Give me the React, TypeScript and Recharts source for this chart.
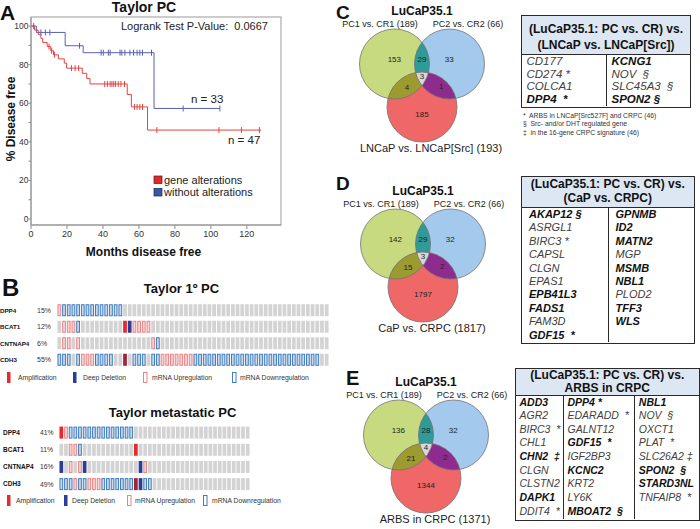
import React from 'react';
import { LineChart, Line, XAxis, YAxis, ScatterChart, Scatter } from 'recharts';

const FONT = '"Liberation Sans", Arial, Helvetica, sans-serif';

// ---------------- Panel A: Kaplan-Meier (Taylor PC) ----------------
const kmXTicks = [0, 20, 40, 60, 80, 100, 120];
const kmYTicks = [0, 10, 20, 30, 40, 50, 60, 70, 80, 90, 100];

const altMonths = [0, 2, 4, 5.5, 6.5, 9, 10, 11, 11.5, 12.5, 13, 15.2, 18.5, 19.8, 22.5, 24.5, 26.5, 28.5, 31, 32.8, 41, 42.5, 44, 45, 46, 47, 48.5, 50, 52, 53.5, 55.8, 57.5, 59, 60.5, 62, 64.8, 70, 104.5, 117, 127, 128];
const altSurvival = [100, 97.9, 95.7, 93.6, 91.5, 89.4, 89.4, 87.2, 87.2, 85.1, 85.1, 83, 80.8, 78.2, 78.2, 78.2, 78.2, 75.5, 72.8, 70, 70, 70, 70, 70, 70, 70, 70, 70, 70, 64.5, 58.1, 58.1, 58.1, 58.1, 58.1, 46.1, 46.1, 46.1, 46.1, 46.1, 46.1];
const altCensored = [0, 0, 0, 0, 0, 0, 1, 0, 1, 0, 1, 0, 0, 0, 1, 1, 1, 0, 0, 0, 1, 1, 1, 1, 1, 1, 1, 1, 1, 0, 0, 1, 1, 1, 1, 0, 1, 1, 1, 1, 0];

const noAltMonths = [0, 1.5, 3, 5.5, 8, 10.5, 19, 27, 29, 39, 40.2, 43, 44, 49.5, 50.5, 52.2, 55, 57, 59, 60.5, 62, 67, 68.4, 84.6, 105];
const noAltSurvival = [100, 100, 96.7, 96.7, 96.7, 96.7, 89.8, 89.8, 86.2, 86.2, 86.2, 86.2, 86.2, 86.2, 86.2, 86.2, 86.2, 86.2, 86.2, 86.2, 86.2, 86.2, 57.3, 57.3, 57.3];
const noAltCensored = [0, 1, 0, 1, 1, 1, 0, 1, 0, 1, 1, 1, 1, 1, 1, 1, 1, 1, 1, 1, 1, 1, 0, 1, 1];

// ---------------- Panel B: oncoprints ----------------
// U = mRNA up, D = mRNA down, A = amplification, L = deep deletion, a = amplification (dark), . = none
const oncoGenes = ['DPP4', 'BCAT1', 'CNTNAP4', 'CDH3'];
const primaryPct = ['15%', '12%', '6%', '55%'];
const primaryRows = [
  'UDDDDDDDDDDDDD',
  '.UUUD.........ALUUUU',
  '.UU.U...............UD',
  'DDD.DUUUDDDD..a.DDD.DDUUUUUUU' + 'DDDDDDDDD' + 'DDDDDDDDD' + 'DDDDDDDDD' + '..',
];
const primaryCols = 58;
const metaPct = ['41%', '11%', '16%', '49%'];
const metaRows = [
  'AUDDDDDDDDDDDDDD',
  '..UUD...........A',
  'L.U.UL...........LU',
  'DDDUDDUUUDDDDDDDaLDD',
];
const metaCols = 41;

// ---------------- Venn diagrams (C, D, E) ----------------
// region order: A only, A∩B, B only, A∩B∩C, A∩C, B∩C, C only
const vennCCounts = [153, 29, 33, 3, 4, 1, 185];
const vennDCounts = [142, 29, 32, 3, 15, 2, 1797];
const vennECounts = [136, 28, 32, 4, 21, 2, 1344];
const vennTitle = 'LuCaP35.1';
const vennSetA = 'PC1 vs. CR1 (189)';
const vennSetB = 'PC2 vs. CR2 (66)';
const vennCSetC = 'LNCaP vs. LNCaP[Src] (193)';
const vennDSetC = 'CaP vs. CRPC (1817)';
const vennESetC = 'ARBS in CRPC (1371)';

// ---------------- Gene tables ----------------
const tableCHeader = ['(LuCaP35.1: PC vs. CR) vs.', '(LNCaP vs. LNCaP[Src])'];
const tableCCol1 = [{ g: 'CD177' }, { g: 'CD274 *' }, { g: 'COLCA1' }, { g: 'DPP4  *', hi: 1 }];
const tableCCol2 = [{ g: 'KCNG1', hi: 1 }, { g: 'NOV  §' }, { g: 'SLC45A3  §' }, { g: 'SPON2 §', hi: 1 }];
const tableCNotes = ['*  ARBS in LNCaP[Src527F] and CRPC (46)', '§  Src- and/or DHT regulated gene', '‡  in the 16-gene CRPC signature (46)'];

const tableDHeader = ['(LuCaP35.1: PC vs. CR) vs.', '(CaP vs. CRPC)'];
const tableDCol1 = [{ g: 'AKAP12 §', hi: 1 }, { g: 'ASRGL1' }, { g: 'BIRC3 *' }, { g: 'CAPSL' }, { g: 'CLGN' }, { g: 'EPAS1' }, { g: 'EPB41L3', hi: 1 }, { g: 'FADS1', hi: 1 }, { g: 'FAM3D' }, { g: 'GDF15  *', hi: 1 }];
const tableDCol2 = [{ g: 'GPNMB', hi: 1 }, { g: 'ID2', hi: 1 }, { g: 'MATN2', hi: 1 }, { g: 'MGP' }, { g: 'MSMB', hi: 1 }, { g: 'NBL1', hi: 1 }, { g: 'PLOD2' }, { g: 'TFF3', hi: 1 }, { g: 'WLS', hi: 1 }];

const tableEHeader = ['(LuCaP35.1: PC vs. CR) vs.', 'ARBS in CRPC'];
const tableECol1 = [{ g: 'ADD3', hi: 1 }, { g: 'AGR2' }, { g: 'BIRC3  *' }, { g: 'CHL1' }, { g: 'CHN2  ‡', hi: 1 }, { g: 'CLGN' }, { g: 'CLSTN2' }, { g: 'DAPK1', hi: 1 }, { g: 'DDIT4  *' }];
const tableECol2 = [{ g: 'DPP4 *', hi: 1 }, { g: 'EDARADD  *' }, { g: 'GALNT12' }, { g: 'GDF15  *', hi: 1 }, { g: 'IGF2BP3' }, { g: 'KCNC2', hi: 1 }, { g: 'KRT2' }, { g: 'LY6K' }, { g: 'MBOAT2  §', hi: 1 }];
const tableECol3 = [{ g: 'NBL1', hi: 1 }, { g: 'NOV  §' }, { g: 'OXCT1' }, { g: 'PLAT  *' }, { g: 'SLC26A2 ‡' }, { g: 'SPON2  §', hi: 1 }, { g: 'STARD3NL', hi: 1 }, { g: 'TNFAIP8  *' }];

// ================= components =================
const RED = '#E5423F';
const BLUE = '#5860B3';

function kmSeries(m: number[], v: number[], c: number[]) {
  return m.map((mm, i) => ({ m: mm, v: v[i], c: c[i] }));
}

function KMPanel() {
  const alt = kmSeries(altMonths, altSurvival, altCensored);
  const noAlt = kmSeries(noAltMonths, noAltSurvival, noAltCensored);
  const dot = (color: string) => (p: any) => {
    if (!p.payload || !p.payload.c) return <g key={`n${p.index}`} />;
    return <line key={`c${p.index}`} x1={p.cx} x2={p.cx} y1={p.cy - 3} y2={p.cy + 3} stroke={color} strokeWidth={1} />;
  };
  return (
    <div style={{ position: 'absolute', left: 0, top: 0 }}>
      <LineChart width={290} height={262} margin={{ top: 17, right: 9, bottom: 2, left: 0 }}>
        <XAxis type="number" dataKey="m" domain={[0, 139]} allowDataOverflow ticks={kmXTicks} height={35}
          tickSize={4} tickMargin={2} stroke="#8a8a8a" tick={{ fontSize: 9, fill: '#333' }} />
        <YAxis type="number" dataKey="v" domain={[-3.1, 104.7]} allowDataOverflow ticks={kmYTicks} width={31}
          tickSize={2.5} tickMargin={0} stroke="#8a8a8a" interval={0}
          tick={(p: any) => p.payload.value % 20 === 0
            ? <text key={`t${p.payload.value}`} x={p.x} y={p.y} dy={3} textAnchor="end" fontSize={8.5} fill="#333">{p.payload.value}</text>
            : <g key={`t${p.payload.value}`} />} />
        <Line data={noAlt} dataKey="v" type="stepAfter" stroke={BLUE} strokeWidth={1} dot={dot(BLUE)} activeDot={false} isAnimationActive={false} />
        <Line data={alt} dataKey="v" type="stepAfter" stroke={RED} strokeWidth={1} dot={dot(RED)} activeDot={false} isAnimationActive={false} />
      </LineChart>
    </div>
  );
}

const ONCO = {
  grey: '#D3D3D3', upFill: '#EDD9D9', upStroke: '#EE8383', downFill: '#CCD9E8', downStroke: '#3F7DC0',
  amp: '#E42A2E', del: '#2B3D97', ampDark: '#A3243A',
};

function Oncoprint({ rows, pcts, nCols, left, top, width, height, axisW, margin, cellH, geneX, pctX, geneFs, pctFs }: any) {
  const data: any[] = [];
  rows.forEach((r: string, ri: number) => {
    for (let c = 0; c < nCols; c++) data.push({ col: c + 0.5, row: ri, t: r[c] || '.' });
  });
  const plotW = width - axisW - margin.left - margin.right;
  const cellW = (plotW / nCols) * 0.8;
  const shape = (p: any) => {
    const t = p.payload.t;
    const x = p.cx - cellW / 2, y = p.cy - cellH / 2;
    if (t === 'U') return <rect x={x + 0.5} y={y + 0.5} width={cellW - 1} height={cellH - 1} fill={ONCO.upFill} stroke={ONCO.upStroke} strokeWidth={1} />;
    if (t === 'D') return <rect x={x + 0.5} y={y + 0.5} width={cellW - 1} height={cellH - 1} fill={ONCO.downFill} stroke={ONCO.downStroke} strokeWidth={1} />;
    if (t === 'A') return <rect x={x} y={y} width={cellW} height={cellH} fill={ONCO.amp} />;
    if (t === 'L') return <rect x={x} y={y} width={cellW} height={cellH} fill={ONCO.del} />;
    if (t === 'a') return <rect x={x} y={y} width={cellW} height={cellH} fill={ONCO.ampDark} />;
    return <rect x={x} y={y} width={cellW} height={cellH} fill={ONCO.grey} />;
  };
  return (
    <div style={{ position: 'absolute', left, top }}>
      <ScatterChart width={width} height={height} margin={margin}>
        <XAxis type="number" dataKey="col" domain={[0, nCols]} allowDataOverflow hide />
        <YAxis type="number" dataKey="row" domain={[-0.5, rows.length - 0.5]} allowDataOverflow reversed
          ticks={[0, 1, 2, 3]} interval={0} width={axisW} axisLine={false} tickLine={false}
          tick={(p: any) => {
            const i = p.payload.value;
            return (
              <g key={`g${i}`}>
                <text x={geneX} y={p.y} dy={2.3} fontSize={geneFs} fontWeight="bold" fill="#111">{oncoGenes[i]}</text>
                <text x={pctX} y={p.y} dy={2.4} fontSize={pctFs} fill="#333">{pcts[i]}</text>
              </g>
            );
          }} />
        <Scatter data={data} shape={shape} isAnimationActive={false} />
      </ScatterChart>
    </div>
  );
}

const R_PX = 35;
const VENN_CENTERS = [{ k: 'a', x: -0.786, y: 0 }, { k: 'b', x: 0.786, y: 0 }, { k: 'c', x: 0, y: 1.23 }];
const REGION_POS = [[-0.79, -0.13], [0, -0.13], [0.78, -0.13], [0, 0.35], [-0.43, 0.65], [0.55, 0.62], [0, 1.42]];
const VENN_FILL: any = { a: '#C8DA7F', b: '#A3CAEC', c: '#EF6767', ab: '#2E9B98', ac: '#9D9B30', bc: '#8D2C8E', abc: '#D8D8D8' };

function Venn({ id, ox, oy, counts, setC }: any) {
  const W = 190, H = 150, OX = 95, OY = 55;
  const xDom = [-OX / R_PX, (W - OX) / R_PX];
  const yDom = [-OY / R_PX, (H - OY) / R_PX];
  const [ca, cb] = VENN_CENTERS;
  const inter = [
    { x: ca.x, y: ca.y, fill: VENN_FILL.ab, clips: ['b'] },
    { x: ca.x, y: ca.y, fill: VENN_FILL.ac, clips: ['c'] },
    { x: cb.x, y: cb.y, fill: VENN_FILL.bc, clips: ['c'] },
    { x: ca.x, y: ca.y, fill: VENN_FILL.abc, clips: ['b', 'c'] },
  ];
  const labels = REGION_POS.map((p, i) => ({ x: p[0], y: p[1], n: counts[i] }));
  return (
    <div style={{ position: 'absolute', left: ox - OX, top: oy - OY, width: W, height: H }}>
      <ScatterChart width={W} height={H} margin={{ top: 0, right: 0, bottom: 0, left: 0 }}>
        <XAxis type="number" dataKey="x" domain={xDom} allowDataOverflow hide />
        <YAxis type="number" dataKey="y" domain={yDom} allowDataOverflow hide reversed />
        <Scatter data={VENN_CENTERS} isAnimationActive={false} shape={(p: any) => (
          <g>
            <defs>
              <clipPath id={`${id}-${p.payload.k}`}><circle cx={p.cx} cy={p.cy} r={R_PX} /></clipPath>
            </defs>
            <circle cx={p.cx} cy={p.cy} r={R_PX} fill={VENN_FILL[p.payload.k]} />
          </g>
        )} />
        <Scatter data={inter} isAnimationActive={false} shape={(p: any) => {
          const [c1, c2] = p.payload.clips;
          const circ = <circle cx={p.cx} cy={p.cy} r={R_PX} fill={p.payload.fill} clipPath={`url(#${id}-${c1})`} />;
          return c2 ? <g clipPath={`url(#${id}-${c2})`}>{circ}</g> : <g>{circ}</g>;
        }} />
        <Scatter data={VENN_CENTERS} isAnimationActive={false} shape={(p: any) => (
          <circle cx={p.cx} cy={p.cy} r={R_PX} fill="none" stroke="#727272" strokeWidth={0.8} />
        )} />
        <Scatter data={labels} isAnimationActive={false} shape={(p: any) => (
          <text x={p.cx} y={p.cy} dy={2.8} textAnchor="middle" fontSize={8} fill="#222">{p.payload.n}</text>
        )} />
      </ScatterChart>
      <svg width={W} height={H} style={{ position: 'absolute', left: 0, top: 0, overflow: 'visible', pointerEvents: 'none' }} fontFamily={FONT}>
        <text x={OX} y={OY - 48.7} textAnchor="middle" fontSize={12} fontWeight="bold" fill="#111">{vennTitle}</text>
        <text x={OX - 42} y={OY - 37} textAnchor="middle" fontSize={9} fill="#222">{vennSetA}</text>
        <text x={OX + 46} y={OY - 37} textAnchor="middle" fontSize={9} fill="#222">{vennSetB}</text>
        <text x={OX + 9} y={OY + 88} textAnchor="middle" fontSize={11} fill="#222">{setC}</text>
      </svg>
    </div>
  );
}

function GeneTable({ left, top, width, height, headerH, header, headerLH, headerPad, cols, colW, rowH, fs, padL }: any) {
  const nRows = Math.max(...cols.map((c: any) => c.length));
  return (
    <div style={{ position: 'absolute', left, top, width, height, border: '1.5px solid #2a2a2a', boxSizing: 'border-box', background: '#fff', fontFamily: FONT, overflow: 'hidden' }}>
      <div style={{ height: headerH, background: '#DDE7F3', borderBottom: '1.5px solid #2a2a2a', boxSizing: 'border-box', textAlign: 'center', fontWeight: 'bold', fontSize: 12, lineHeight: `${headerLH}px`, paddingTop: headerPad, color: '#111' }}>
        {header.map((h: string, i: number) => <div key={i} style={{ whiteSpace: 'pre' }}>{h}</div>)}
      </div>
      <div style={{ display: 'flex', height: height - headerH - 3 }}>
        {cols.map((col: any, ci: number) => (
          <div key={ci} style={{ width: colW[ci], flex: ci === cols.length - 1 ? 1 : 'none', borderLeft: ci ? '1px solid #2a2a2a' : 'none', boxSizing: 'border-box' }}>
            {Array.from({ length: nRows }).map((_, ri) => {
              const e = col[ri];
              return (
                <div key={ri} style={{ height: rowH, lineHeight: `${rowH}px`, paddingLeft: padL, fontSize: fs, fontStyle: 'italic', fontWeight: e && e.hi ? 'bold' : 'normal', color: e && e.hi ? '#111' : '#404040', whiteSpace: 'pre' }}>
                  {e ? e.g : ''}
                </div>
              );
            })}
          </div>
        ))}
      </div>
    </div>
  );
}

function OncoLegend({ y, items }: any) {
  const h = 11;
  return (
    <g>
      {items.map((it: any, i: number) => {
        let glyph;
        if (it.k === 'A') glyph = <rect x={it.gx} y={y} width={3.5} height={h} fill={ONCO.amp} />;
        else if (it.k === 'L') glyph = <rect x={it.gx} y={y} width={3.5} height={h} fill={ONCO.del} />;
        else if (it.k === 'U') glyph = <rect x={it.gx + 0.5} y={y + 0.5} width={3.5} height={h - 1} fill="#fff" stroke={ONCO.upStroke} strokeWidth={1} />;
        else glyph = <rect x={it.gx + 0.5} y={y + 0.5} width={3.5} height={h - 1} fill="#fff" stroke={ONCO.downStroke} strokeWidth={1} />;
        return (
          <g key={i}>
            {glyph}
            <text x={it.tx} y={y + 8.3} fontSize={6.8} fill="#333">{it.label}</text>
          </g>
        );
      })}
    </g>
  );
}

const legendLabels = ['Amplification', 'Deep Deletion', 'mRNA Upregulation', 'mRNA Downregulation'];

export default function App() {
  const leg1 = [
    { k: 'A', gx: 7, tx: 18, label: legendLabels[0] },
    { k: 'L', gx: 73, tx: 83, label: legendLabels[1] },
    { k: 'U', gx: 143, tx: 152, label: legendLabels[2] },
    { k: 'D', gx: 232, tx: 240, label: legendLabels[3] },
  ];
  const leg2 = [
    { k: 'A', gx: 7, tx: 16, label: legendLabels[0] },
    { k: 'L', gx: 64, tx: 72, label: legendLabels[1] },
    { k: 'U', gx: 127, tx: 135, label: legendLabels[2] },
    { k: 'D', gx: 203, tx: 212, label: legendLabels[3] },
  ];
  return (
    <div style={{ position: 'absolute', left: 0, top: 0, width: 700, height: 529, background: '#fff', fontFamily: FONT, overflow: 'hidden' }}>
      <KMPanel />
      <Oncoprint rows={primaryRows} pcts={primaryPct} nCols={primaryCols} left={0} top={300} width={330} height={70}
        axisW={57} margin={{ top: 2, right: 1, bottom: 2, left: 0 }} cellH={12} geneX={0} pctX={37} geneFs={6.2} pctFs={7} />
      <Oncoprint rows={metaRows} pcts={metaPct} nCols={metaCols} left={0} top={422} width={251} height={73}
        axisW={59} margin={{ top: 2, right: 1, bottom: 2.3, left: 0 }} cellH={12} geneX={3} pctX={40} geneFs={6.5} pctFs={6.8} />
      <Venn id="vc" ox={421.8} oy={64} counts={vennCCounts} setC={vennCSetC} />
      <Venn id="vd" ox={422.5} oy={243.5} counts={vennDCounts} setC={vennDSetC} />
      <Venn id="ve" ox={425.5} oy={435} counts={vennECounts} setC={vennESetC} />
      <GeneTable left={521} top={14.5} width={170} height={93.5} headerH={39.5} header={tableCHeader} headerLH={16} headerPad={5}
        cols={[tableCCol1, tableCCol2]} colW={[84, 86]} rowH={12.6} fs={11.5} padL={4.5} />
      <GeneTable left={521} top={176} width={173.5} height={168} headerH={31} header={tableDHeader} headerLH={14} headerPad={0}
        cols={[tableDCol1, tableDCol2]} colW={[85.5, 86]} rowH={13.4} fs={11} padL={7} />
      <GeneTable left={515} top={368} width={184.5} height={152.5} headerH={26.5} header={tableEHeader} headerLH={13.4} headerPad={0}
        cols={[tableECol1, tableECol2, tableECol3]} colW={[47, 71.3, 65]} rowH={13.65} fs={10.5} padL={3.5} />
      <svg width={700} height={529} style={{ position: 'absolute', left: 0, top: 0, pointerEvents: 'none' }} fontFamily={FONT}>
        {/* Panel A */}
        <rect x={31} y={17} width={250} height={208} fill="none" stroke="#9a9a9a" strokeWidth={1} />
        <text x={0} y={20} fontSize={21} fontWeight="bold" fill="#111">A</text>
        <text x={144} y={12} fontSize={14} fontWeight="bold" textAnchor="middle" fill="#111">Taylor PC</text>
        <text x={121} y={30} fontSize={11} fill="#222" style={{ whiteSpace: 'pre' }}>{'Logrank Test P-Value:  0.0667'}</text>
        <text x={191} y={103} fontSize={11.5} fill="#222">n = 33</text>
        <text x={228} y={144} fontSize={11.5} fill="#222">n = 47</text>
        <rect x={154} y={176} width={8} height={7.5} fill="#E3262B" stroke="#5a1a1a" strokeWidth={0.7} />
        <text x={164} y={184} fontSize={11} fill="#222">gene alterations</text>
        <rect x={154} y={188.5} width={8} height={7.5} fill="#3A56A8" stroke="#1b2550" strokeWidth={0.7} />
        <text x={164} y={196} fontSize={11} fill="#222">without alterations</text>
        <text transform="translate(15,119) rotate(-90)" textAnchor="middle" fontSize={12} fontWeight="bold" fill="#111">% Disease free</text>
        <text x={143.5} y={256} textAnchor="middle" fontSize={12} fontWeight="bold" fill="#111">Months disease free</text>
        {/* Panel B */}
        <text x={2} y={296} fontSize={24} fontWeight="bold" fill="#111">B</text>
        <text x={181.5} y={293} fontSize={13} fontWeight="bold" textAnchor="middle" fill="#111">Taylor 1º PC</text>
        <OncoLegend y={372} items={leg1} />
        <text x={172.5} y={416.5} fontSize={13} fontWeight="bold" textAnchor="middle" fill="#111">Taylor metastatic PC</text>
        <OncoLegend y={495} items={leg2} />
        {/* Panel letters */}
        <text x={336} y={18.5} fontSize={19} fontWeight="bold" fill="#111">C</text>
        <text x={336} y={190} fontSize={19} fontWeight="bold" fill="#111">D</text>
        <text x={346} y={385} fontSize={20} fontWeight="bold" fill="#111">E</text>
        {/* Table C notes */}
        {tableCNotes.map((n, i) => (
          <text key={i} x={523} y={117.5 + i * 8.7} fontSize={6.8} fill="#333" style={{ whiteSpace: 'pre' }}>{n}</text>
        ))}
      </svg>
    </div>
  );
}
